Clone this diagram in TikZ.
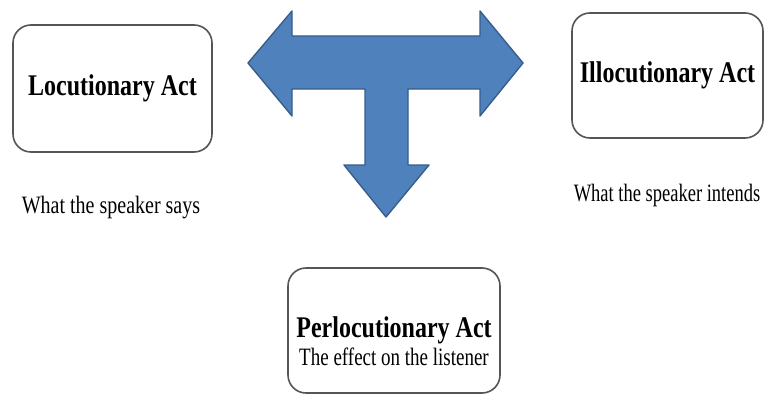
\documentclass[tikz,border=0pt]{standalone}
\usepackage{fontspec}
\usepackage{graphicx}
\setmainfont{Liberation Serif}
\definecolor{arrowfill}{RGB}{79,129,189}
\definecolor{arrowline}{RGB}{56,93,138}
\definecolor{boxline}{RGB}{85,85,85}
\newcommand{\lblB}[1]{\scalebox{0.8}[1]{\fontsize{30}{36}\selectfont\bfseries #1}}
\newcommand{\lblR}[2][0.8]{\scalebox{#1}[1]{\fontsize{25}{29}\selectfont #2}}
\tikzset{
  actbox/.style={draw=boxline, line width=1.6pt, rounded corners=18pt, fill=white, inner sep=0pt},
  captxt/.style={anchor=base, inner sep=0pt, text=black},
  bigarrow/.style={fill=arrowfill, draw=arrowline, line width=1.4pt, line join=round}
}
\begin{document}
\begin{tikzpicture}[x=1pt,y=-1pt]
\useasboundingbox (0,0) rectangle (767,396);
\fill[white] (0,0) rectangle (767,396);
% T-shaped three-way arrow
\draw[bigarrow] (248,63) -- (292,11) -- (292,36) -- (480,36) -- (480,11) -- (523,63)
  -- (480,116) -- (480,89) -- (408,89) -- (408,165) -- (429,165) -- (386,217)
  -- (344,165) -- (365,165) -- (365,89) -- (292,89) -- (292,116) -- cycle;
% boxes
\node[actbox, minimum width=199pt, minimum height=127pt] (loc) at (112.5,88.5) {\raisebox{-2pt}{\lblB{Locutionary Act}}};
\node[actbox, minimum width=191pt, minimum height=125pt] (illoc) at (667.5,75.5) {\raisebox{-2pt}{\lblB{Illocutionary Act}}};
\node[actbox, minimum width=212pt, minimum height=125pt] (perloc) at (394,330.5) {};
\node[captxt] (perlocT) at (394,337) {\lblB{Perlocutionary Act}};
\node[captxt] (perlocS) at (394,365) {\lblR[0.76]{The effect on the listener}};
% captions
\node[captxt] (locS) at (111,213) {\lblR{What the speaker says}};
\node[captxt] (illocS) at (667,201) {\lblR[0.74]{What the speaker intends}};
\end{tikzpicture}
\end{document}
